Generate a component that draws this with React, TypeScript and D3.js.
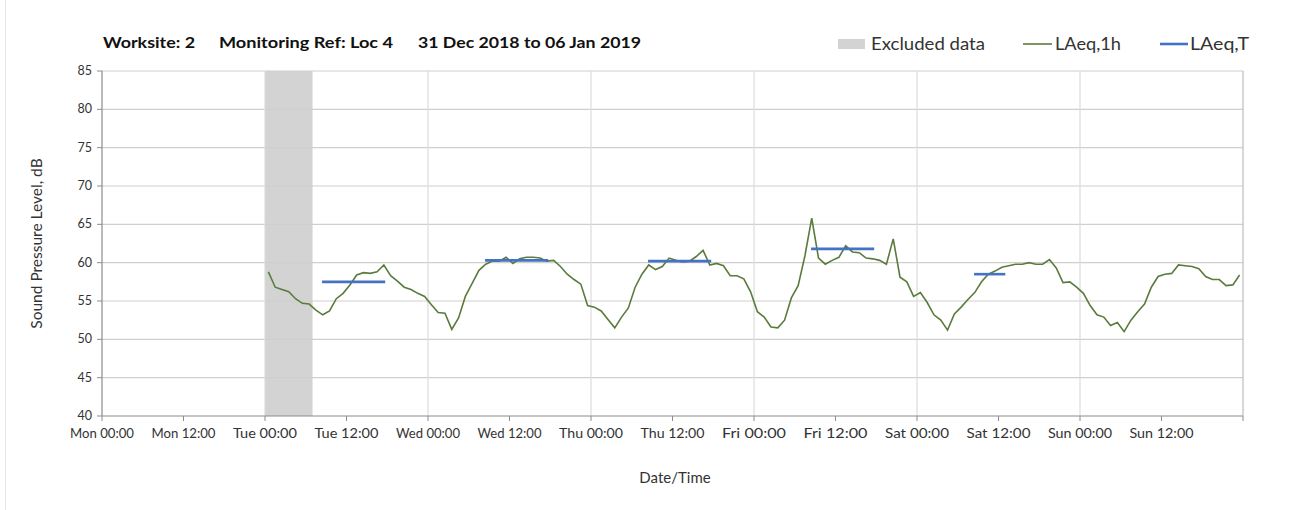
import React from 'react';
import * as d3 from 'd3';

// hourly LAeq,1h readings, first point Tue 00:00 (hour 24 from Mon 00:00)
const startHour = 24;
const laeq1h = [
  58.8, 56.8, 56.5, 56.2, 55.3, 54.7, 54.6, 53.8, 53.2, 53.7, 55.3, 56.0,
  57.1, 58.4, 58.7, 58.6, 58.8, 59.7, 58.3, 57.6, 56.8, 56.5, 56.0, 55.6,
  54.5, 53.5, 53.4, 51.3, 52.8, 55.6, 57.3, 59.0, 59.8, 60.2, 60.2, 60.7,
  59.9, 60.5, 60.7, 60.7, 60.6, 60.2, 60.3, 59.5, 58.5, 57.8, 57.2, 54.4,
  54.2, 53.7, 52.6, 51.5, 52.9, 54.1, 56.8, 58.5, 59.7, 59.1, 59.5, 60.6,
  60.3, 60.1, 60.2, 60.8, 61.6, 59.7, 59.9, 59.6, 58.3, 58.3, 57.9, 56.2,
  53.6, 52.9, 51.6, 51.5, 52.5, 55.4, 57.0, 60.9, 65.8, 60.6, 59.8, 60.3,
  60.7, 62.2, 61.4, 61.3, 60.6, 60.5, 60.3, 59.8, 63.1, 58.1, 57.5, 55.6,
  56.1, 54.8, 53.2, 52.5, 51.2, 53.3, 54.2, 55.2, 56.1, 57.5, 58.5, 58.9,
  59.4, 59.6, 59.8, 59.8, 60.0, 59.8, 59.8, 60.4, 59.3, 57.4, 57.5, 56.8,
  56.0, 54.4, 53.2, 52.9, 51.8, 52.2, 51.0, 52.5, 53.6, 54.6, 56.8, 58.2,
  58.5, 58.6, 59.7, 59.6, 59.5, 59.2, 58.2, 57.8, 57.8, 57.0, 57.1, 58.4,
];

// LAeq,T daytime periods
const periodStart = [32.4, 56.4, 80.4, 104.4, 128.4];
const periodEnd = [41.7, 65.7, 89.7, 113.7, 133.0];
const periodLevel = [57.5, 60.3, 60.2, 61.8, 58.5];

const excludedStart = 24;
const excludedEnd = 31;

const xTickLabels = [
  'Mon 00:00', 'Mon 12:00', 'Tue 00:00', 'Tue 12:00', 'Wed 00:00', 'Wed 12:00',
  'Thu 00:00', 'Thu 12:00', 'Fri 00:00', 'Fri 12:00', 'Sat 00:00', 'Sat 12:00',
  'Sun 00:00', 'Sun 12:00',
];
const yTicks = [40, 45, 50, 55, 60, 65, 70, 75, 80, 85];

const W = 1307;
const H = 510;
const font = 'Lato, "Open Sans", sans-serif';

const App: React.FC = () => {
  const x = d3.scaleLinear().domain([0, 168]).range([102, 1243]);
  const y = d3.scaleLinear().domain([40, 85]).range([416, 71]);

  const line = d3
    .line<number>()
    .x((_, i) => x(startHour + i + 0.5))
    .y((d) => y(d));

  const dayTicks = d3.range(24, 169, 24);
  const halfTicks = d3.range(0, 169, 12);

  return (
    <svg
      width={W}
      height={H}
      style={{ position: 'absolute', left: 0, top: 0, background: '#fff' }}
      fontFamily={font}
    >
      {/* excluded data */}
      <rect
        x={x(excludedStart)}
        y={y(85)}
        width={x(excludedEnd) - x(excludedStart)}
        height={y(40) - y(85)}
        fill="#d3d3d3"
      />

      {/* horizontal grid */}
      {yTicks.slice(1).map((t) => (
        <line key={t} x1={x(0)} x2={x(168)} y1={y(t)} y2={y(t)} stroke="#cfcfcf" strokeWidth={1.2} />
      ))}
      {/* vertical grid */}
      {dayTicks.map((t) => (
        <line key={t} x1={x(t)} x2={x(t)} y1={y(85)} y2={y(40)} stroke={t === 168 ? '#bdbdbd' : '#dcdcdc'} strokeWidth={1.2} />
      ))}

      {/* axes */}
      <line x1={x(0)} x2={x(0)} y1={y(85)} y2={y(40)} stroke="#8c8c8c" strokeWidth={1.2} />
      <line x1={x(0)} x2={x(168)} y1={y(40)} y2={y(40)} stroke="#8c8c8c" strokeWidth={1.2} />
      {yTicks.map((t) => (
        <g key={t}>
          <line x1={x(0) - 5} x2={x(0)} y1={y(t)} y2={y(t)} stroke="#8c8c8c" />
          <text x={x(0) - 10} y={y(t) + 4} textAnchor="end" fontSize={12.5} fill="#333">
            {t}
          </text>
        </g>
      ))}
      {halfTicks.map((t) => (
        <line key={t} x1={x(t)} x2={x(t)} y1={y(40)} y2={y(40) + 5} stroke="#8c8c8c" />
      ))}
      {xTickLabels.map((lab, i) => (
        <text key={lab} x={x(i * 12)} y={y(40) + 22} textAnchor="middle" fontSize={12.5} fill="#333" textLength={64} lengthAdjust="spacingAndGlyphs">
          {lab}
        </text>
      ))}

      {/* LAeq,1h */}
      <path d={line(laeq1h) || ''} fill="none" stroke="#5b7b3c" strokeWidth={1.6} />

      {/* LAeq,T */}
      {periodLevel.map((v, i) => (
        <line
          key={i}
          x1={x(periodStart[i])}
          x2={x(periodEnd[i])}
          y1={y(v)}
          y2={y(v)}
          stroke="#4472c4"
          strokeWidth={2.6}
        />
      ))}

      {/* titles */}
      <g fontSize={16} fontWeight="bold" fill="#111">
        <text x={103} y={48} textLength={92} lengthAdjust="spacingAndGlyphs">Worksite: 2</text>
        <text x={219} y={48} textLength={174} lengthAdjust="spacingAndGlyphs">Monitoring Ref: Loc 4</text>
        <text x={418} y={48} textLength={223} lengthAdjust="spacingAndGlyphs">31 Dec 2018 to 06 Jan 2019</text>
      </g>
      <text
        transform={`translate(42,${(y(40) + y(85)) / 2}) rotate(-90)`}
        textAnchor="middle"
        fontSize={15.5}
        fill="#333"
      >
        Sound Pressure Level, dB
      </text>
      <text x={675} y={483} textAnchor="middle" fontSize={15} fill="#333">
        Date/Time
      </text>

      {/* legend */}
      <rect x={838} y={39} width={27} height={10} fill="#d3d3d3" />
      <text x={871} y={50} fontSize={16.5} fill="#333" textLength={114} lengthAdjust="spacingAndGlyphs">Excluded data</text>
      <line x1={1023} x2={1052} y1={44} y2={44} stroke="#5b7b3c" strokeWidth={1.6} />
      <text x={1055} y={50} fontSize={16.5} fill="#333" textLength={66} lengthAdjust="spacingAndGlyphs">LAeq,1h</text>
      <line x1={1160} x2={1188} y1={44} y2={44} stroke="#4472c4" strokeWidth={2.6} />
      <text x={1190} y={50} fontSize={16.5} fill="#333" textLength={59} lengthAdjust="spacingAndGlyphs">LAeq,T</text>

      {/* faint outer border */}
      <line x1={5.5} x2={5.5} y1={0} y2={H} stroke="#e6e6e6" />
    </svg>
  );
};

export default App;
